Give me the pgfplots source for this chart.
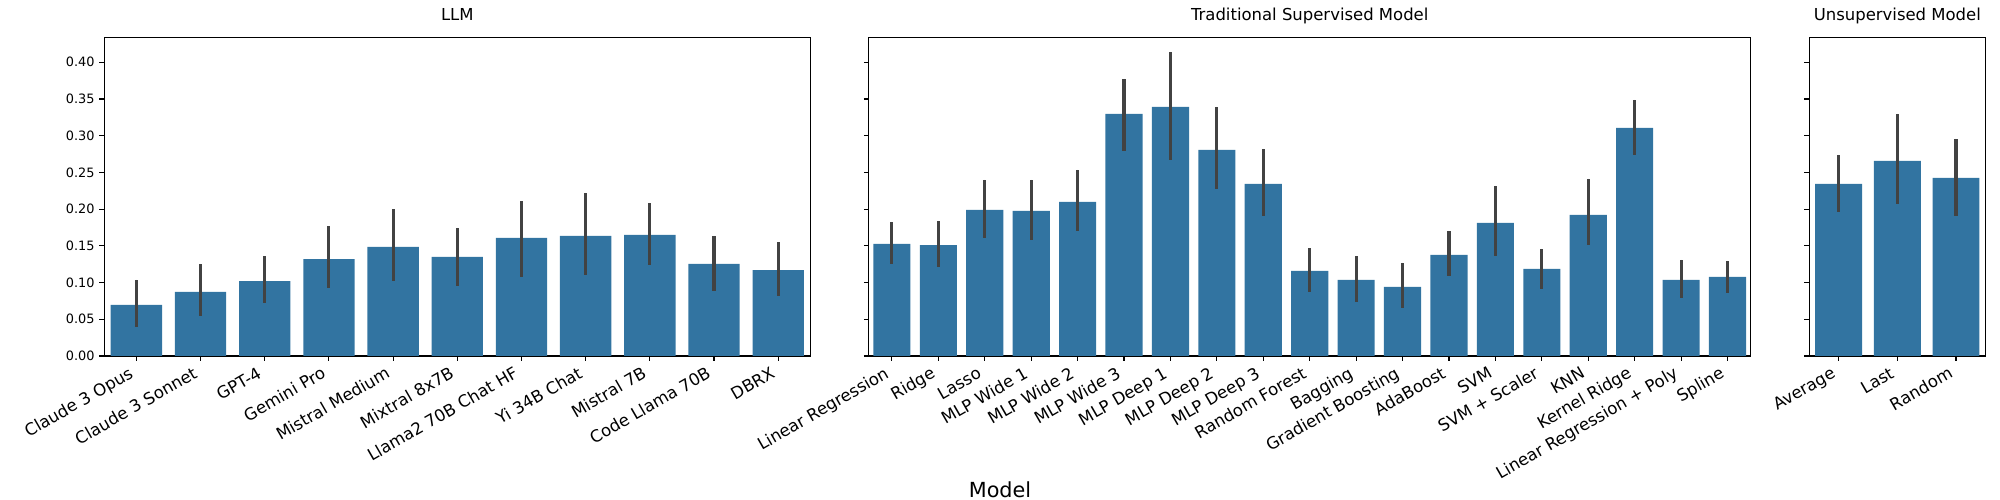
\documentclass[border=0pt]{standalone}
\usepackage{fontspec}
\setmainfont{DejaVu Sans}
\usepackage{pgfplots}
\usepackage{pgfplotstable}
\pgfplotsset{compat=1.18}
\definecolor{barblue}{HTML}{3274A1}
\definecolor{errgray}{HTML}{424242}

\pgfplotstableread{
x y lo hi
0  0.0695 0.0395 0.1035
1  0.0872 0.0549 0.1253
2  0.1020 0.0726 0.1360
3  0.1320 0.0930 0.1770
4  0.1485 0.1026 0.2000
5  0.1350 0.0958 0.1744
6  0.1610 0.1080 0.2110
7  0.1635 0.1108 0.2220
8  0.1650 0.1244 0.2084
9  0.1253 0.0890 0.1635
10 0.1170 0.0820 0.1550
}\llm

\pgfplotstableread{
x y lo hi
0  0.1526 0.1258 0.1826
1  0.1510 0.1217 0.1840
2  0.1990 0.1610 0.2400
3  0.1975 0.1585 0.2400
4  0.2100 0.1708 0.2534
5  0.3297 0.2797 0.3774
6  0.3392 0.2675 0.4140
7  0.2807 0.2280 0.3392
8  0.2343 0.1910 0.2820
9  0.1158 0.0876 0.1470
10 0.1035 0.0740 0.1360
11 0.0940 0.0658 0.1267
12 0.1376 0.1094 0.1703
13 0.1812 0.1367 0.2316
14 0.1185 0.0917 0.1458
15 0.1921 0.1517 0.2411
16 0.3106 0.2743 0.3488
17 0.1035 0.0795 0.1308
18 0.1076 0.0863 0.1294
}\trad

\pgfplotstableread{
x y lo hi
0 0.2343 0.1966 0.2738
1 0.2657 0.2075 0.3297
2 0.2425 0.1911 0.2956
}\unsup

\pgfplotsset{
  panel/.style={
    scale only axis,
    height=3.187in,
    ymin=0, ymax=0.434,
    ybar, bar width=0.8,
    axis line style={line width=0.8pt, black},
    tick style={line width=0.8pt, black},
    major tick length=3.5pt,
    tick align=outside,
    tick pos=left,
    ytick={0,0.05,0.1,0.15,0.2,0.25,0.3,0.35,0.4},
    yticklabel style={font=\fontsize{9.3}{11}\selectfont,
      /pgf/number format/.cd, fixed, fixed zerofill, precision=2, assume math mode=true},
    xticklabel style={font=\fontsize{12}{14}\selectfont, anchor=base east, inner sep=0pt,
      xshift=-0.02in, yshift=-0.158in, rotate=30},
    title style={font=\fontsize{11.9}{14}\selectfont, anchor=base, at={(0.5,1)}, yshift=0.085in},
    anchor=south west,
  },
  bars/.style={
    fill=barblue, draw=none,
    error bars/.cd, y dir=both, y explicit, error mark=none,
    error bar style={line width=2.25pt, errgray},
  },
}

\begin{document}
\begin{tikzpicture}
\path[use as bounding box] (0,0) rectangle (20in,5in);

\begin{axis}[panel, at={(1.043in,1.44in)}, width=7.06in,
  title={LLM},
  xmin=-0.5, xmax=10.5,
  xtick={0,...,10},
  xticklabels={Claude 3 Opus, Claude 3 Sonnet, GPT-4, Gemini Pro, Mistral Medium, Mixtral 8x7B, Llama2 70B Chat HF, Yi 34B Chat, Mistral 7B, Code Llama 70B, DBRX},
]
\addplot[bars] table[x=x, y=y, y error plus expr=\thisrow{hi}-\thisrow{y}, y error minus expr=\thisrow{y}-\thisrow{lo}] {\llm};
\end{axis}

\begin{axis}[panel, at={(8.687in,1.44in)}, width=8.82in,
  title={Traditional Supervised Model},
  xmin=-0.5, xmax=18.5,
  xtick={0,...,18},
  yticklabels={},
  xticklabels={Linear Regression, Ridge, Lasso, MLP Wide 1, MLP Wide 2, MLP Wide 3, MLP Deep 1, MLP Deep 2, MLP Deep 3, Random Forest, Bagging, Gradient Boosting, AdaBoost, SVM, SVM + Scaler, KNN, Kernel Ridge, Linear Regression + Poly, Spline},
]
\addplot[bars] table[x=x, y=y, y error plus expr=\thisrow{hi}-\thisrow{y}, y error minus expr=\thisrow{y}-\thisrow{lo}] {\trad};
\end{axis}

\begin{axis}[panel, at={(18.093in,1.44in)}, width=1.76in,
  title={Unsupervised Model},
  xmin=-0.5, xmax=2.5,
  xtick={0,1,2},
  yticklabels={},
  xticklabels={Average, Last, Random},
]
\addplot[bars] table[x=x, y=y, y error plus expr=\thisrow{hi}-\thisrow{y}, y error minus expr=\thisrow{y}-\thisrow{lo}] {\unsup};
\end{axis}

\node[anchor=base, font=\fontsize{15}{18}\selectfont, inner sep=0pt] at (10in,0.025in) {Model};
\end{tikzpicture}
\end{document}
